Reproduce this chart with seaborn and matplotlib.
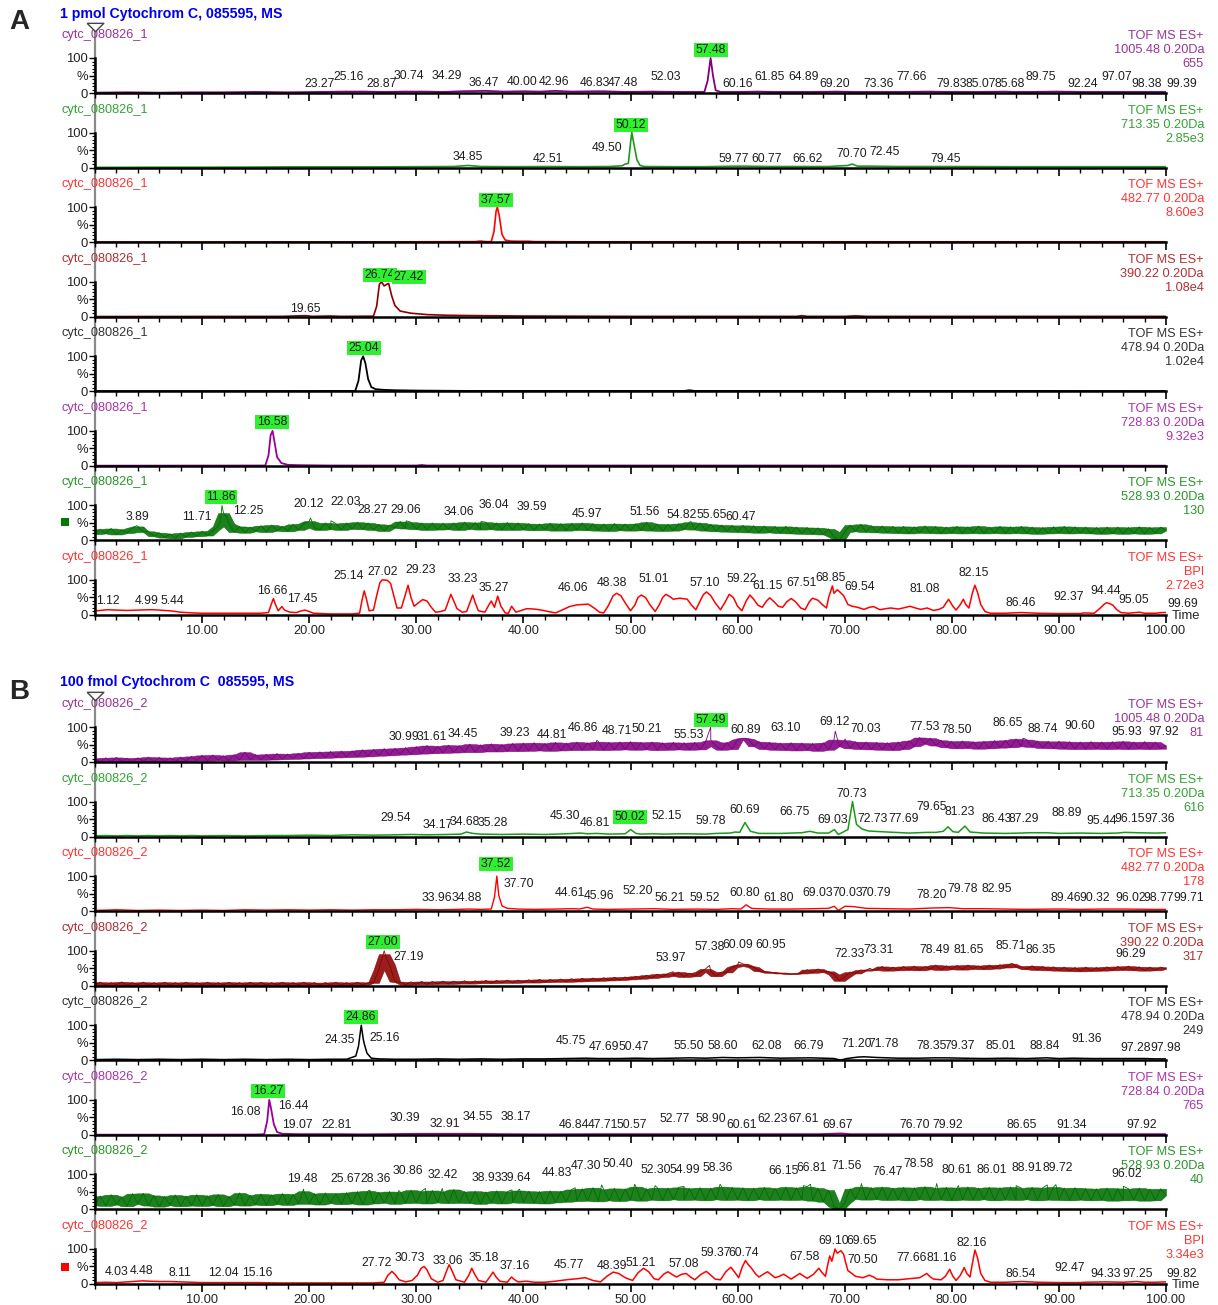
import numpy as np
import pandas as pd
import matplotlib
matplotlib.use("Agg")
import matplotlib.pyplot as plt
from matplotlib.lines import Line2D
from matplotlib.patches import Rectangle
import seaborn as sns

# ---------------- run / channel descriptions ----------------
TITLE_A = "1 pmol Cytochrom C, 085595, MS"
TITLE_B = "100 fmol Cytochrom C  085595, MS"
SAMPLE_A = "cytc_080826_1"
SAMPLE_B = "cytc_080826_2"
CHANNELS_A = ["1005.48 0.20Da", "713.35 0.20Da", "482.77 0.20Da", "390.22 0.20Da",
              "478.94 0.20Da", "728.83 0.20Da", "528.93 0.20Da", "BPI"]
INTENS_A = ["655", "2.85e3", "8.60e3", "1.08e4", "1.02e4", "9.32e3", "130", "2.72e3"]
CHANNELS_B = ["1005.48 0.20Da", "713.35 0.20Da", "482.77 0.20Da", "390.22 0.20Da",
              "478.94 0.20Da", "728.84 0.20Da", "528.93 0.20Da", "BPI"]
INTENS_B = ["81", "616", "178", "317", "249", "765", "40", "3.34e3"]
X_TICKS = [10, 20, 30, 40, 50, 60, 70, 80, 90, 100]

# ---------------- chromatogram traces (time [min], relative intensity [%]) ----------------
A1_PTS = [(0, 1), (3, 2), (6, 1), (9, 2), (12, 2), (15, 3), (18, 2), (21, 3), (23.27, 4), (25.16, 4),
          (27, 3), (28.87, 4), (30.74, 4), (32.5, 3), (34.29, 5), (36.47, 6), (38.2, 4), (40.0, 5),
          (41.5, 4), (42.96, 6), (44.5, 4), (46.83, 5), (47.48, 5), (49.5, 3), (52.03, 4), (54.5, 3),
          (56.9, 3), (57.2, 35), (57.48, 100), (57.7, 50), (57.95, 8), (58.4, 3), (60.16, 3), (61.85, 4),
          (63.5, 3), (64.89, 3), (67, 3), (69.2, 4), (71, 3), (73.36, 3), (75.5, 3), (77.66, 4), (79.83, 3),
          (82.5, 3), (85.07, 4), (85.68, 3), (87.5, 3), (89.75, 4), (92.24, 3), (94.5, 3), (97.07, 3),
          (98.38, 3), (99.39, 3), (100, 3)]
A2_PTS = [(0, 0.5), (5, 1), (10, 1), (15, 1.5), (18, 2), (22, 2), (26, 2), (30, 2.5), (33.5, 3), (34.85, 6),
          (36, 3), (39, 2.5), (42.51, 3), (45, 2.5), (48, 3), (49.2, 5), (49.5, 10), (49.8, 12), (50.0, 70),
          (50.12, 100), (50.35, 62), (50.6, 22), (50.9, 6), (51.3, 3), (54, 2.5), (57, 2.5), (59.77, 4),
          (60.77, 4), (63, 3), (66.62, 3), (68.5, 3), (70.3, 6), (70.70, 10), (71.2, 4), (72.45, 4), (75, 3),
          (79.45, 3), (85, 2.5), (90, 2.5), (95, 2.5), (100, 2.5)]
A3_PTS = [(0, 0.5), (10, 0.5), (20, 0.8), (30, 1), (35.5, 1.5), (36, 3), (36.5, 1.5), (37.0, 1.5), (37.25, 30),
          (37.45, 88), (37.57, 100), (37.75, 75), (38.0, 22), (38.3, 6), (38.8, 3), (39.5, 2.5), (40.5, 2.5),
          (41, 1.5), (45, 1), (50, 1), (60, 1), (70, 1), (80, 1), (90, 1), (100, 1)]
A4_PTS = [(0, 0.5), (10, 0.8), (17.5, 1), (19.65, 3), (20.3, 1), (22, 2), (23, 1), (26.0, 1.5), (26.3, 30),
          (26.55, 92), (26.74, 100), (27.0, 88), (27.2, 92), (27.42, 95), (27.7, 60), (28.0, 32), (28.5, 16),
          (29.5, 10), (31, 6), (33, 4), (36, 3), (40, 2), (45, 1.5), (50, 1), (60, 1), (65.5, 1), (66, 3),
          (66.5, 1), (70, 1), (71, 2.5), (72, 1), (80, 1), (90, 1), (100, 1)]
A5_PTS = [(0, 0.5), (10, 0.5), (20, 0.8), (24.3, 1), (24.6, 30), (24.85, 88), (25.04, 100), (25.25, 80),
          (25.5, 35), (25.8, 12), (26.2, 6), (27, 4), (28, 3), (30, 2), (35, 1), (50, 1), (55, 1), (55.5, 3),
          (56, 1), (70, 1), (85, 1), (100, 0.5)]
A6_PTS = [(0, 0.5), (10, 0.8), (15.9, 1), (16.2, 30), (16.4, 88), (16.58, 100), (16.75, 70), (17.0, 25),
          (17.4, 8), (18, 3), (19, 2), (22, 1), (30, 1), (30.5, 2.5), (31, 1), (45, 1), (60, 1), (80, 1),
          (100, 0.5)]
# 528.93 trace, sampled every 0.5 min
A7_GRID = [18, 32, 20, 34, 17, 31, 21, 36, 40, 24,
           26, 12, 22, 8, 19, 6, 21, 10, 24, 12,
           26, 14, 28, 40, 78, 48, 24, 40, 22, 38,
           26, 42, 24, 44, 28, 40, 26, 46, 30, 48,
           55, 36, 30, 50, 32, 48, 30, 50, 33, 52,
           32, 50, 30, 46, 27, 44, 36, 54, 34, 52,
           32, 50, 30, 50, 31, 49, 32, 50, 30, 52,
           33, 51, 31, 52, 32, 50, 30, 51, 30, 50,
           31, 48, 29, 47, 30, 49, 28, 48, 28, 49,
           30, 50, 29, 48, 28, 47, 27, 48, 29, 47,
           28, 48, 29, 52, 28, 47, 27, 46, 28, 48,
           32, 52, 31, 50, 28, 46, 26, 44, 25, 43,
           24, 43, 23, 42, 22, 41, 23, 40, 21, 40,
           20, 38, 19, 37, 18, 36, 17, 33, 10, 1,
           24, 44, 26, 46, 24, 42, 23, 41, 22, 40,
           21, 40, 20, 39, 22, 41, 21, 40, 20, 38,
           21, 40, 20, 39, 21, 41, 20, 38, 21, 40,
           20, 39, 21, 40, 20, 38, 19, 37, 20, 39,
           21, 40, 20, 39, 21, 38, 20, 37, 19, 38,
           20, 38, 19, 37, 20, 39, 19, 37, 20, 38,
           28]
A7_PEAKS = [(3.89, 42), (11.71, 55), (11.86, 100), (12.25, 68), (20.12, 64), (22.03, 56), (29.06, 56),
            (36.04, 54), (55.65, 54)]
A8_PTS = [(0, 12), (0.5, 13), (1.12, 15), (2, 14), (3, 13), (4, 14), (4.99, 15), (5.44, 15), (6, 14), (7, 12),
          (8, 8), (9, 6), (10, 5), (12, 5), (14, 5), (15.5, 5), (16.2, 7), (16.45, 30), (16.66, 47), (16.85, 30),
          (17.1, 12), (17.45, 24), (17.7, 14), (18.2, 8), (18.8, 7), (19.3, 12), (19.6, 14), (19.9, 11),
          (20.4, 5), (22, 3), (24, 3), (24.7, 5), (24.95, 45), (25.14, 69), (25.35, 45), (25.6, 12), (26.0, 14),
          (26.3, 55), (26.6, 92), (26.8, 100), (27.02, 100), (27.3, 99), (27.6, 90), (27.9, 55), (28.2, 20),
          (28.6, 20), (28.9, 50), (29.23, 85), (29.5, 50), (29.8, 25), (30.2, 35), (30.6, 44), (31.0, 40),
          (31.4, 22), (31.8, 8), (32.3, 10), (32.7, 14), (33.0, 40), (33.23, 59), (33.5, 40), (33.8, 18),
          (34.3, 8), (34.7, 10), (35.0, 35), (35.27, 57), (35.5, 35), (35.8, 12), (36.4, 8), (36.8, 30),
          (37.0, 40), (37.3, 22), (37.6, 54), (37.9, 25), (38.3, 6), (38.6, 5), (38.9, 25), (39.3, 8),
          (39.7, 12), (40.3, 18), (41, 17), (41.7, 14), (42.3, 10), (43, 6), (43.6, 14), (44.3, 24), (45, 29),
          (45.6, 30), (46.06, 31), (46.6, 20), (47.1, 8), (47.5, 6), (47.9, 25), (48.38, 55), (48.7, 62),
          (49.1, 55), (49.5, 35), (50, 12), (50.4, 28), (50.7, 50), (51.01, 57), (51.4, 50), (51.8, 30),
          (52.3, 10), (52.7, 30), (53.0, 50), (53.3, 59), (53.7, 52), (54, 45), (54.6, 48), (55.3, 45),
          (55.7, 28), (56.1, 15), (56.5, 40), (56.8, 58), (57.1, 66), (57.5, 55), (57.9, 35), (58.4, 15),
          (58.8, 35), (59.22, 59), (59.6, 50), (60.0, 25), (60.4, 12), (60.8, 40), (61.15, 57), (61.5, 45),
          (61.9, 28), (62.3, 22), (62.7, 40), (63, 49), (63.4, 38), (63.8, 25), (64.2, 22), (64.6, 38),
          (65, 47), (65.4, 38), (65.9, 20), (66.3, 15), (66.7, 38), (67.0, 48), (67.51, 42), (67.9, 30),
          (68.3, 20), (68.5, 50), (68.85, 83), (69.0, 62), (69.3, 72), (69.54, 66), (69.9, 55), (70.3, 30),
          (70.7, 25), (71.2, 22), (71.8, 16), (72.3, 22), (72.7, 24), (73.3, 15), (73.8, 18), (74.3, 20),
          (75, 17), (75.6, 21), (76.1, 25), (76.6, 20), (77.1, 16), (77.7, 20), (78.3, 13), (78.8, 16),
          (79.2, 22), (79.7, 45), (80.1, 25), (80.4, 14), (80.8, 30), (81.08, 45), (81.3, 30), (81.6, 20),
          (81.9, 60), (82.15, 85), (82.4, 65), (82.7, 30), (83.1, 10), (83.6, 5), (85, 5), (86.46, 7), (88, 5),
          (90, 4), (92, 4), (92.37, 6), (93.3, 5), (93.8, 18), (94.2, 30), (94.44, 35), (94.7, 33),
          (95.05, 28), (95.4, 15), (95.8, 7), (96.5, 5), (97.5, 8), (98, 5), (99, 5), (99.69, 7), (100, 7)]

B1_GRID = [10, 0, 12, 1, 13, 2, 11, 0, 12, 2,
           14, 1, 13, 2, 12, 1, 14, 3, 16, 4,
           19, 4, 20, 5, 18, 4, 21, 6, 28, 6,
           21, 6, 22, 7, 24, 8, 23, 9, 25, 10,
           28, 11, 29, 12, 30, 13, 31, 14, 32, 15,
           35, 16, 36, 18, 38, 19, 39, 21, 41, 22,
           44, 24, 47, 25, 45, 26, 48, 27, 47, 28,
           51, 28, 49, 30, 52, 30, 50, 31, 53, 31,
           54, 32, 55, 33, 53, 32, 56, 33, 54, 34,
           57, 34, 55, 35, 58, 34, 56, 35, 57, 36,
           58, 35, 56, 36, 57, 34, 55, 35, 56, 36,
           55, 35, 56, 36, 57, 62, 45, 35, 56, 37,
           64, 68, 66, 45, 58, 37, 56, 35, 54, 34,
           55, 33, 54, 34, 53, 32, 55, 35, 64, 45,
           62, 39, 58, 37, 57, 36, 56, 35, 55, 34,
           57, 37, 61, 45, 70, 52, 68, 47, 62, 42,
           59, 39, 60, 40, 58, 38, 59, 39, 61, 41,
           62, 42, 66, 45, 64, 43, 60, 40, 59, 39,
           59, 38, 58, 37, 57, 37, 58, 38, 57, 37,
           58, 38, 59, 37, 57, 38, 58, 37, 57, 38,
           47]
B1_PEAKS = [(57.49, 100), (69.12, 88), (70.03, 66), (86.65, 68), (46.86, 62)]
B2_PTS = [(0, 2), (1, 3), (2, 2), (3, 3), (4, 2), (5, 3), (6, 2), (7, 3), (8, 2), (9, 3), (10, 2), (12, 3),
          (14, 2), (16, 3), (18, 3), (20, 4), (22, 3), (24, 5), (26, 4), (28, 5), (29.54, 6), (31, 5), (33, 6),
          (34.17, 7), (34.68, 13), (35.28, 9), (36, 7), (38, 6), (40, 7), (42, 6), (44, 8), (45.30, 10),
          (46, 8), (46.81, 9), (48, 7), (49.5, 8), (50.02, 20), (50.5, 9), (51, 7), (52.15, 8), (53, 7),
          (55, 8), (57, 7), (58, 9), (59.3, 10), (59.78, 13), (60.2, 12), (60.69, 40), (61.2, 15), (62, 9),
          (64, 9), (66, 11), (66.75, 15), (67.5, 10), (68.5, 10), (69.03, 20), (69.4, 6), (69.8, 12),
          (70.3, 20), (70.73, 100), (71.1, 35), (71.6, 22), (72.2, 16), (72.73, 15), (74, 13), (76, 10),
          (77.69, 12), (78.5, 12), (79.2, 15), (79.65, 28), (80.1, 14), (80.6, 12), (81.23, 30), (81.7, 13),
          (83, 10), (85, 9), (86.43, 10), (87.29, 11), (88.89, 11), (90, 9), (92, 10), (94, 9), (95.44, 10),
          (96.15, 12), (97.36, 11), (99, 10), (100, 11)]
B3_PTS = [(0, 2), (2, 4), (4, 2), (6, 3), (8, 2), (10, 3), (12, 2), (14, 4), (16, 3), (18, 4), (20, 3),
          (22, 4), (24, 3), (26, 4), (28, 4), (30, 5), (32, 4), (33.96, 5), (34.88, 6), (36, 5), (37.0, 6),
          (37.3, 40), (37.52, 100), (37.70, 45), (38.0, 15), (38.5, 8), (39.5, 6), (41, 5), (43, 6),
          (44.61, 7), (45.2, 6), (45.96, 11), (46.5, 6), (48, 5), (50, 6), (52.2, 7), (54, 5), (56.21, 6),
          (58, 5), (59.52, 7), (60.3, 6), (60.8, 18), (61.3, 8), (61.8, 7), (63, 6), (65, 6), (67, 7),
          (68.5, 8), (69.03, 14), (69.4, 2), (70.03, 14), (70.79, 13), (72, 8), (74, 7), (76, 6), (78.2, 9),
          (79.78, 10), (81, 7), (82.95, 7), (85, 6), (87, 5), (89.46, 6), (90.32, 6), (92, 5), (94, 6),
          (96.02, 6), (98.77, 5), (99.71, 5), (100, 5)]
B4_GRID = [2, 10, 1, 9, 2, 11, 1, 9, 2, 10,
           1, 9, 2, 10, 1, 9, 2, 10, 1, 9,
           2, 10, 1, 9, 2, 10, 2, 9, 1, 10,
           2, 10, 1, 9, 2, 10, 2, 9, 2, 10,
           2, 9, 1, 9, 2, 10, 1, 9, 2, 10,
           2, 9, 8, 45, 90, 60, 12, 10, 3, 11,
           4, 12, 4, 12, 5, 13, 5, 13, 6, 14,
           6, 14, 7, 15, 7, 15, 8, 16, 8, 16,
           9, 17, 9, 18, 10, 18, 11, 19, 11, 20,
           12, 21, 13, 22, 14, 23, 15, 24, 16, 25,
           18, 27, 20, 30, 22, 33, 25, 35, 28, 39,
           25, 36, 27, 39, 48, 40, 27, 39, 38, 53,
           58, 62, 56, 53, 42, 41, 37, 38, 35, 36,
           33, 35, 35, 46, 37, 48, 39, 41, 32, 14,
           25, 39, 35, 45, 43, 47, 45, 55, 43, 53,
           44, 55, 45, 56, 44, 55, 47, 59, 45, 57,
           47, 58, 46, 59, 48, 57, 47, 59, 49, 60,
           52, 63, 53, 55, 47, 57, 45, 55, 44, 54,
           43, 53, 42, 52, 41, 53, 42, 52, 43, 54,
           44, 55, 45, 56, 44, 54, 43, 53, 44, 53,
           48]
B4_PEAKS = [(27.0, 100), (27.19, 80), (53.97, 40), (57.38, 58), (60.09, 68), (60.95, 60), (72.33, 50),
            (85.71, 63)]
B5_PTS = [(0, 2), (2, 3), (4, 2), (6, 3), (8, 2), (10, 3), (12, 2), (14, 3), (16, 2), (18, 3), (20, 2),
          (22, 3), (23.5, 3), (24.35, 12), (24.6, 40), (24.86, 100), (25.05, 60), (25.16, 45), (25.4, 20),
          (25.8, 6), (26.5, 4), (28, 3), (30, 3), (32, 4), (34, 3), (36, 4), (38, 3), (40, 4), (42, 4),
          (44, 5), (45.75, 6), (47, 5), (47.69, 5), (49, 5), (50.47, 6), (52, 5), (54, 6), (55.5, 7),
          (57, 6), (58.6, 8), (60, 7), (62.08, 8), (64, 6), (66.79, 7), (68, 6), (69.0, 5), (69.6, 0.5),
          (70.2, 5), (71.2, 9), (71.78, 10), (73, 8), (75, 6), (77, 6), (78.35, 7), (79.37, 7), (81, 6),
          (83, 5), (85.01, 6), (87, 5), (88.84, 7), (90, 5), (91.36, 6), (93, 5), (95, 5), (97.28, 5),
          (97.98, 5), (99, 4), (100, 4)]
B6_PTS = [(0, 0.5), (5, 0.5), (10, 0.8), (15, 1), (15.8, 2), (16.08, 40), (16.27, 100), (16.44, 75),
          (16.7, 30), (17.0, 8), (17.5, 3), (19.07, 2), (22.81, 2), (25, 1.5), (30.39, 3), (32.91, 3),
          (34.55, 3), (38.17, 2), (42, 1.5), (46.84, 2), (47.71, 2), (50.57, 2), (52.77, 2), (58.9, 2),
          (60.61, 2), (62.23, 2), (67.61, 2), (69.67, 4), (70.5, 2), (76.7, 2), (79.92, 2), (86.65, 2),
          (91.34, 2), (97.92, 2), (100, 2)]
B7_GRID = [12, 38, 10, 42, 14, 36, 9, 45, 16, 46,
           11, 40, 8, 37, 12, 41, 9, 38, 11, 42,
           10, 39, 12, 43, 9, 37, 13, 47, 11, 40,
           14, 44, 12, 42, 15, 45, 13, 43, 16, 52,
           16, 45, 14, 47, 18, 46, 15, 48, 17, 51,
           14, 53, 17, 49, 19, 51, 16, 50, 18, 55,
           19, 52, 17, 54, 20, 51, 18, 57, 19, 51,
           18, 52, 16, 50, 19, 53, 17, 51, 20, 54,
           19, 52, 18, 51, 17, 53, 20, 52, 22, 57,
           24, 59, 25, 62, 23, 57, 26, 60, 24, 59,
           27, 65, 25, 59, 28, 62, 26, 61, 29, 63,
           27, 60, 28, 62, 26, 61, 29, 65, 27, 63,
           28, 62, 26, 61, 29, 63, 27, 60, 28, 64,
           27, 62, 28, 65, 25, 61, 22, 55, 8, 2,
           18, 59, 30, 65, 28, 62, 29, 64, 27, 61,
           28, 63, 26, 62, 29, 65, 27, 61, 28, 63,
           26, 62, 28, 64, 27, 61, 29, 63, 26, 62,
           28, 64, 27, 61, 29, 63, 26, 62, 28, 64,
           27, 61, 26, 62, 28, 60, 26, 59, 27, 61,
           25, 60, 26, 59, 27, 61, 25, 58, 26, 59,
           40]
B7_PEAKS = [(19.48, 58), (25.67, 55), (28.36, 54), (30.86, 60), (32.42, 60), (38.93, 56), (39.64, 58),
            (44.83, 62), (47.30, 70), (50.40, 72), (52.30, 68), (54.99, 66), (58.36, 72), (66.15, 68),
            (66.81, 72), (71.56, 74), (78.58, 74), (80.61, 68), (86.01, 68), (88.91, 70), (89.72, 71),
            (96.02, 66)]
B8_PTS = [(0, 4), (1, 5), (2, 4), (3, 6), (4.03, 8), (4.48, 9), (5, 8), (6, 7), (7, 7), (8.11, 6), (9, 5),
          (10, 4), (12.04, 4), (14, 4), (15.16, 4), (17, 3), (20, 3), (23, 3), (26, 3), (27.0, 5), (27.35, 25),
          (27.72, 36), (28.0, 28), (28.4, 12), (29, 6), (29.6, 10), (30.1, 25), (30.45, 45), (30.73, 50),
          (31.0, 40), (31.4, 15), (32, 5), (32.5, 10), (32.8, 35), (33.06, 55), (33.3, 40), (33.7, 12),
          (34.5, 5), (34.9, 25), (35.18, 45), (35.45, 28), (35.8, 10), (36.5, 5), (36.9, 22), (37.16, 34),
          (37.45, 20), (37.8, 8), (38.5, 5), (38.75, 15), (38.9, 20), (39.1, 14), (39.5, 6), (40.3, 8),
          (41, 5), (42, 5), (43, 8), (44, 12), (45, 15), (45.77, 18), (46.5, 10), (47.2, 6), (47.8, 22),
          (48.39, 34), (48.9, 30), (49.5, 18), (50.2, 10), (50.7, 32), (51.21, 45), (51.7, 35), (52.2, 15),
          (52.6, 12), (53.1, 28), (53.5, 35), (54.0, 25), (54.3, 20), (54.8, 28), (55.2, 30), (55.6, 20),
          (56, 12), (56.6, 28), (57.08, 36), (57.5, 25), (57.9, 14), (58.4, 12), (58.9, 35), (59.37, 48),
          (59.7, 35), (60.1, 18), (60.45, 50), (60.74, 67), (61.0, 55), (61.3, 45), (61.7, 28), (62, 20),
          (62.4, 28), (62.8, 35), (63.2, 25), (63.5, 18), (63.9, 22), (64.3, 28), (64.7, 20), (65, 14),
          (65.4, 22), (65.8, 30), (66.2, 22), (66.5, 16), (66.8, 22), (67.1, 28), (67.58, 45), (67.9, 32),
          (68.2, 22), (68.45, 60), (68.6, 80), (68.8, 65), (69.10, 100), (69.3, 88), (69.65, 95), (69.9, 85),
          (70.1, 60), (70.3, 38), (70.5, 34), (71, 22), (71.7, 18), (72.3, 25), (72.7, 20), (73, 14),
          (74, 12), (75, 12), (76, 15), (77, 18), (77.66, 30), (78.0, 20), (78.3, 14), (79, 12), (79.4, 22),
          (79.8, 42), (80.1, 22), (80.4, 10), (80.8, 25), (81.16, 47), (81.4, 30), (81.7, 20), (81.9, 55),
          (82.16, 97), (82.4, 75), (82.7, 30), (83.1, 10), (83.6, 5), (85, 5), (86.54, 7), (88, 5), (90, 4),
          (92, 4), (92.47, 5), (94.33, 6), (96, 5), (97.25, 7), (98, 5), (99, 5), (99.82, 6), (100, 6)]

# ---------------- peak annotations: (text, x px, y px, highlighted) ----------------
A_LABELS = [
    [("23.27", 320, 84), ("25.16", 349, 77), ("28.87", 382, 84), ("30.74", 409, 76), ("34.29", 447, 76),
     ("36.47", 484, 83), ("40.00", 522, 82), ("42.96", 554, 82), ("46.83", 595, 83), ("47.48", 623, 83),
     ("52.03", 666, 77), ("57.48", 711, 50, 1), ("60.16", 738, 84), ("61.85", 770, 77), ("64.89", 804, 77),
     ("69.20", 835, 84), ("73.36", 879, 84), ("77.66", 912, 77), ("79.83", 952, 84), ("85.07", 981, 84),
     ("85.68", 1010, 84), ("89.75", 1041, 77), ("92.24", 1083, 84), ("97.07", 1117, 77),
     ("98.38", 1147, 84), ("99.39", 1182, 84)],
    [("34.85", 468, 157), ("42.51", 548, 159), ("49.50", 607, 148), ("50.12", 631, 125, 1),
     ("59.77", 734, 159), ("60.77", 767, 159), ("66.62", 808, 159), ("70.70", 852, 154),
     ("72.45", 885, 152), ("79.45", 946, 159)],
    [("37.57", 496, 200, 1)],
    [("19.65", 305, 309), ("26.74", 380, 275, 1), ("27.42", 409, 277, 1)],
    [("25.04", 364, 348, 1)],
    [("16.58", 272, 422, 1)],
    [("3.89", 137, 517), ("11.71", 197, 517), ("11.86", 221, 497, 1), ("12.25", 248, 511),
     ("20.12", 309, 504), ("22.03", 346, 502), ("28.27", 373, 510), ("29.06", 406, 510),
     ("34.06", 459, 512), ("36.04", 494, 505), ("39.59", 532, 507), ("45.97", 587, 514),
     ("51.56", 645, 512), ("54.82", 682, 515), ("55.65", 712, 515), ("60.47", 741, 517)],
    [("1.12", 108, 601), ("4.99", 147, 601), ("5.44", 172, 601), ("16.66", 272, 591), ("17.45", 302, 599),
     ("25.14", 349, 576), ("27.02", 383, 572), ("29.23", 421, 570), ("33.23", 463, 579), ("35.27", 494, 588),
     ("46.06", 573, 588), ("48.38", 612, 583), ("51.01", 654, 579), ("57.10", 705, 583), ("59.22", 742, 579),
     ("61.15", 768, 586), ("67.51", 802, 583), ("68.85", 831, 578), ("69.54", 860, 587), ("81.08", 925, 589),
     ("82.15", 974, 573), ("86.46", 1021, 603), ("92.37", 1069, 597), ("94.44", 1106, 591),
     ("95.05", 1134, 600), ("99.69", 1183, 604)],
]
B_LABELS = [
    [("30.99", 404, 737), ("31.61", 432, 737), ("34.45", 463, 734), ("39.23", 515, 733), ("44.81", 552, 735),
     ("46.86", 583, 728), ("48.71", 617, 731), ("50.21", 647, 729), ("55.53", 689, 735), ("57.49", 711, 720, 1),
     ("60.89", 746, 730), ("63.10", 786, 728), ("69.12", 835, 722), ("70.03", 866, 729), ("77.53", 925, 727),
     ("78.50", 957, 730), ("86.65", 1008, 723), ("88.74", 1043, 729), ("90.60", 1080, 726),
     ("95.93", 1127, 732), ("97.92", 1164, 732)],
    [("29.54", 396, 818), ("34.17", 438, 825), ("34.68", 465, 822), ("35.28", 493, 823), ("45.30", 565, 816),
     ("46.81", 595, 823), ("50.02", 630, 817, 1), ("52.15", 667, 816), ("59.78", 711, 821), ("60.69", 745, 810),
     ("66.75", 795, 812), ("69.03", 833, 820), ("70.73", 852, 794), ("72.73", 873, 819), ("77.69", 904, 819),
     ("79.65", 932, 807), ("81.23", 960, 812), ("86.43", 997, 819), ("87.29", 1024, 819), ("88.89", 1067, 813),
     ("95.44", 1102, 821), ("96.15", 1130, 819), ("97.36", 1160, 819)],
    [("33.96", 437, 898), ("34.88", 467, 898), ("37.52", 496, 864, 1), ("37.70", 519, 884), ("44.61", 570, 893),
     ("45.96", 599, 896), ("52.20", 638, 891), ("56.21", 670, 898), ("59.52", 705, 898), ("60.80", 745, 893),
     ("61.80", 779, 898), ("69.03", 818, 893), ("70.03", 848, 893), ("70.79", 876, 893), ("78.20", 932, 895),
     ("79.78", 963, 889), ("82.95", 997, 889), ("89.46", 1066, 898), ("90.32", 1095, 898),
     ("96.02", 1131, 898), ("98.77", 1159, 898), ("99.71", 1189, 898)],
    [("27.00", 383, 942, 1), ("27.19", 409, 957), ("53.97", 671, 958), ("57.38", 710, 947), ("60.09", 738, 945),
     ("60.95", 771, 945), ("72.33", 850, 954), ("73.31", 879, 950), ("78.49", 935, 950), ("81.65", 969, 950),
     ("85.71", 1011, 946), ("86.35", 1041, 950), ("96.29", 1131, 954)],
    [("24.35", 340, 1040), ("24.86", 361, 1017, 1), ("25.16", 385, 1038), ("45.75", 571, 1041),
     ("47.69", 604, 1047), ("50.47", 634, 1047), ("55.50", 689, 1046), ("58.60", 723, 1046),
     ("62.08", 767, 1046), ("66.79", 809, 1046), ("71.20", 857, 1044), ("71.78", 884, 1044),
     ("78.35", 932, 1046), ("79.37", 960, 1046), ("85.01", 1001, 1046), ("88.84", 1045, 1046),
     ("91.36", 1087, 1039), ("97.28", 1136, 1048), ("97.98", 1166, 1048)],
    [("16.27", 268, 1091, 1), ("16.08", 245, 1112), ("16.44", 293, 1106), ("19.07", 297, 1125),
     ("22.81", 337, 1125), ("30.39", 405, 1118), ("32.91", 445, 1124), ("34.55", 478, 1117),
     ("38.17", 516, 1117), ("46.84", 574, 1125), ("47.71", 603, 1125), ("50.57", 632, 1125),
     ("52.77", 675, 1119), ("58.90", 711, 1119), ("60.61", 742, 1125), ("62.23", 773, 1119),
     ("67.61", 804, 1119), ("69.67", 838, 1125), ("76.70", 915, 1125), ("79.92", 948, 1125),
     ("86.65", 1022, 1125), ("91.34", 1072, 1125), ("97.92", 1142, 1125)],
    [("19.48", 302, 1179), ("25.67", 346, 1179), ("28.36", 376, 1179), ("30.86", 408, 1171),
     ("32.42", 443, 1175), ("38.93", 487, 1178), ("39.64", 516, 1178), ("44.83", 557, 1173),
     ("47.30", 586, 1166), ("50.40", 618, 1164), ("52.30", 656, 1170), ("54.99", 685, 1170),
     ("58.36", 718, 1168), ("66.15", 784, 1171), ("66.81", 812, 1168), ("71.56", 847, 1166),
     ("76.47", 888, 1172), ("78.58", 919, 1164), ("80.61", 957, 1170), ("86.01", 992, 1170),
     ("88.91", 1027, 1168), ("89.72", 1058, 1168), ("96.02", 1127, 1174)],
    [("4.03", 117, 1272), ("4.48", 142, 1271), ("8.11", 180, 1273), ("12.04", 223, 1273), ("15.16", 257, 1273),
     ("27.72", 377, 1263), ("30.73", 410, 1258), ("33.06", 448, 1261), ("35.18", 484, 1258),
     ("37.16", 515, 1266), ("45.77", 569, 1265), ("48.39", 612, 1266), ("51.21", 641, 1263),
     ("57.08", 684, 1264), ("59.37", 716, 1253), ("60.74", 744, 1253), ("67.58", 805, 1257),
     ("69.10", 834, 1241), ("69.65", 862, 1241), ("70.50", 863, 1260), ("77.66", 912, 1258),
     ("81.16", 942, 1258), ("82.16", 972, 1243), ("86.54", 1021, 1274), ("92.47", 1070, 1268),
     ("94.33", 1106, 1274), ("97.25", 1138, 1274), ("99.82", 1182, 1274)],
]

# ---------------- styling ----------------
TRACE_COLORS = ["#800080", "#1a9a1a", "#ff0000", "#8b0000", "#000000", "#990099", "#006e00", "#ff0000"]
TEXT_COLORS = ["#993399", "#33a333", "#ff3333", "#b03030", "#333333", "#aa33aa", "#2a962a", "#ff3333"]

sns.set_style("white")
plt.rcParams["font.family"] = ["Liberation Sans", "DejaVu Sans"]

W, H = 1218, 1305
X0, X1 = 95, 1166          # pixel span of 0..100 min
PCT = 0.35                 # pixels per percent
ROW_H = 74.57              # pixel height of one trace row
FS = 8.8
A_BASE = [93 + i * ROW_H for i in range(8)]
B_BASE = [762 + i * ROW_H for i in range(8)]
CURSOR = [(-1, 0.5), (1, 0.5), (0, -0.5), (-1, 0.5)]

fig = plt.figure(figsize=(W / 100, H / 100), dpi=100)
fig.patch.set_facecolor("white")


def fx(x):
    return x / W


def fy(y):
    return 1 - y / H


def build(pts=None, grid=None, extra=None):
    d = {}
    if grid is not None:
        for i, v in enumerate(grid):
            d[i * 0.5] = v
    for src in (pts, extra):
        if src:
            d.update(dict(src))
    ts = sorted(d)
    return pd.DataFrame({"t": ts, "v": [d[k] for k in ts]})


def noise_band(grid):
    # envelope of the sampled noise: local min / max of neighbouring samples
    if grid is None:
        return None
    g = pd.Series(grid, dtype=float)
    return pd.DataFrame({"t": np.arange(len(grid)) * 0.5,
                         "lo": g.rolling(3, center=True, min_periods=1).min(),
                         "hi": g.rolling(3, center=True, min_periods=1).max()})


def draw_row(b, df, band, idx, sample, channel, intens, labels, bottom, lw):
    ax = fig.add_axes([fx(X0), fy(b), (X1 - X0) / W, ROW_H / H])
    ax.patch.set_alpha(0)
    color = TRACE_COLORS[idx]
    if band is not None:
        ax.fill_between(band["t"], band["lo"], band["hi"], color=color, alpha=0.88, linewidth=0.4,
                        edgecolor=color)
    sns.lineplot(data=df, x="t", y="v", ax=ax, color=color, linewidth=lw,
                 estimator=None, sort=False)
    ax.set_xlim(0, 100)
    ax.set_ylim(0, ROW_H / PCT)
    ax.set_xlabel("")
    ax.set_ylabel("")
    for s in ("top", "right"):
        ax.spines[s].set_visible(False)
    ax.spines["left"].set_bounds(0, 100)
    ax.spines["left"].set_linewidth(1.8)
    ax.spines["bottom"].set_linewidth(1.8)
    ax.spines["left"].set_color("black")
    ax.spines["bottom"].set_color("black")
    ax.set_xticks(X_TICKS)
    ax.set_xticks(np.arange(0, 101, 2), minor=True)
    ax.set_xticklabels([f"{v:.2f}" for v in X_TICKS])
    ax.tick_params(axis="x", which="major", length=6, width=1.2, direction="out", color="black",
                   labelsize=FS + 0.4, labelcolor="#222222", pad=1.5, labelbottom=bottom, bottom=True)
    ax.tick_params(axis="x", which="minor", length=3.5, width=1.0, direction="out", color="black",
                   bottom=True)
    ax.set_yticks([0, 50, 100])
    ax.set_yticklabels(["0", "%", "100"])
    ax.set_yticks(np.arange(0, 101, 10), minor=True)
    ax.tick_params(axis="y", which="major", length=4, width=1.0, direction="out", color="black",
                   labelsize=FS + 0.6, labelcolor="#222222", pad=1, left=True)
    ax.tick_params(axis="y", which="minor", length=2, width=0.8, direction="out", color="black", left=True)
    ax.grid(False)

    tc = TEXT_COLORS[idx]
    fig.text(fx(62), fy(b - 58), sample, color=tc, fontsize=FS + 0.4, ha="left", va="center")
    fig.text(fx(1204), fy(b - 57), "TOF MS ES+", color=tc, fontsize=FS + 0.4, ha="right", va="center")
    fig.text(fx(1204), fy(b - 43), channel, color=tc, fontsize=FS + 0.4, ha="right", va="center")
    fig.text(fx(1204), fy(b - 29), intens, color=tc, fontsize=FS + 0.4, ha="right", va="center")
    for lab in labels:
        txt, x, y = lab[0], lab[1], lab[2]
        hl = len(lab) > 3 and lab[3]
        kw = {}
        if hl:
            kw["bbox"] = dict(boxstyle="square,pad=0.12", fc="#2ef02e", ec="none")
        fig.text(fx(x), fy(y), txt, fontsize=FS, color="#1e1e1e", ha="center", va="center", **kw)
    if bottom:
        fig.text(fx(1172), fy(b + 1), "Time", fontsize=FS + 0.6, color="#222222", ha="left", va="center")
    return ax


A_DATA = [build(A1_PTS), build(A2_PTS), build(A3_PTS), build(A4_PTS), build(A5_PTS), build(A6_PTS),
          build(grid=A7_GRID, extra=A7_PEAKS), build(A8_PTS)]
A_BAND = [None] * 6 + [noise_band(A7_GRID), None]
B_DATA = [build(grid=B1_GRID, extra=B1_PEAKS), build(B2_PTS), build(B3_PTS),
          build(grid=B4_GRID, extra=B4_PEAKS), build(B5_PTS), build(B6_PTS),
          build(grid=B7_GRID, extra=B7_PEAKS), build(B8_PTS)]
B_BAND = [noise_band(B1_GRID), None, None, noise_band(B4_GRID), None, None, noise_band(B7_GRID), None]
A_LW = [1.3, 1.2, 1.2, 1.2, 1.3, 1.3, 0.6, 1.1]
B_LW = [0.6, 1.1, 1.0, 0.6, 1.1, 1.3, 0.6, 1.1]

# panel headers and the time-zero cursor
for letter, ly, title, ty, top, bottom_px in (("A", 22, TITLE_A, 14, 27, A_BASE[-1]),
                                             ("B", 692, TITLE_B, 682, 696, B_BASE[-1])):
    fig.text(fx(9), fy(ly), letter, fontsize=20, fontweight="bold", ha="left", va="center")
    fig.text(fx(60), fy(ty), title, fontsize=10.2, fontweight="bold", color="#0000ee",
             ha="left", va="center")
    fig.add_artist(Line2D([fx(95), fx(95)], [fy(top), fy(bottom_px)], color="#8a8a8a",
                          linewidth=1.6, zorder=-1))
    fig.add_artist(Line2D([fx(95)], [fy(top)], marker=CURSOR, markersize=12, markerfacecolor="white",
                          markeredgecolor="#444444", markeredgewidth=1.0, linestyle="none", zorder=5))

for i in range(8):
    draw_row(A_BASE[i], A_DATA[i], A_BAND[i], i, SAMPLE_A, CHANNELS_A[i], INTENS_A[i], A_LABELS[i],
             i == 7, A_LW[i])
    draw_row(B_BASE[i], B_DATA[i], B_BAND[i], i, SAMPLE_B, CHANNELS_B[i], INTENS_B[i], B_LABELS[i],
             i == 7, B_LW[i])

# channel markers beside the y axes
fig.add_artist(Rectangle((fx(61), fy(526)), 8 / W, 8 / H, transform=fig.transFigure,
                         facecolor="#007a00", edgecolor="none"))
fig.add_artist(Rectangle((fx(61), fy(1271)), 8 / W, 8 / H, transform=fig.transFigure,
                         facecolor="#ff0000", edgecolor="none"))

fig.savefig("out.png", dpi=100, facecolor="white")
